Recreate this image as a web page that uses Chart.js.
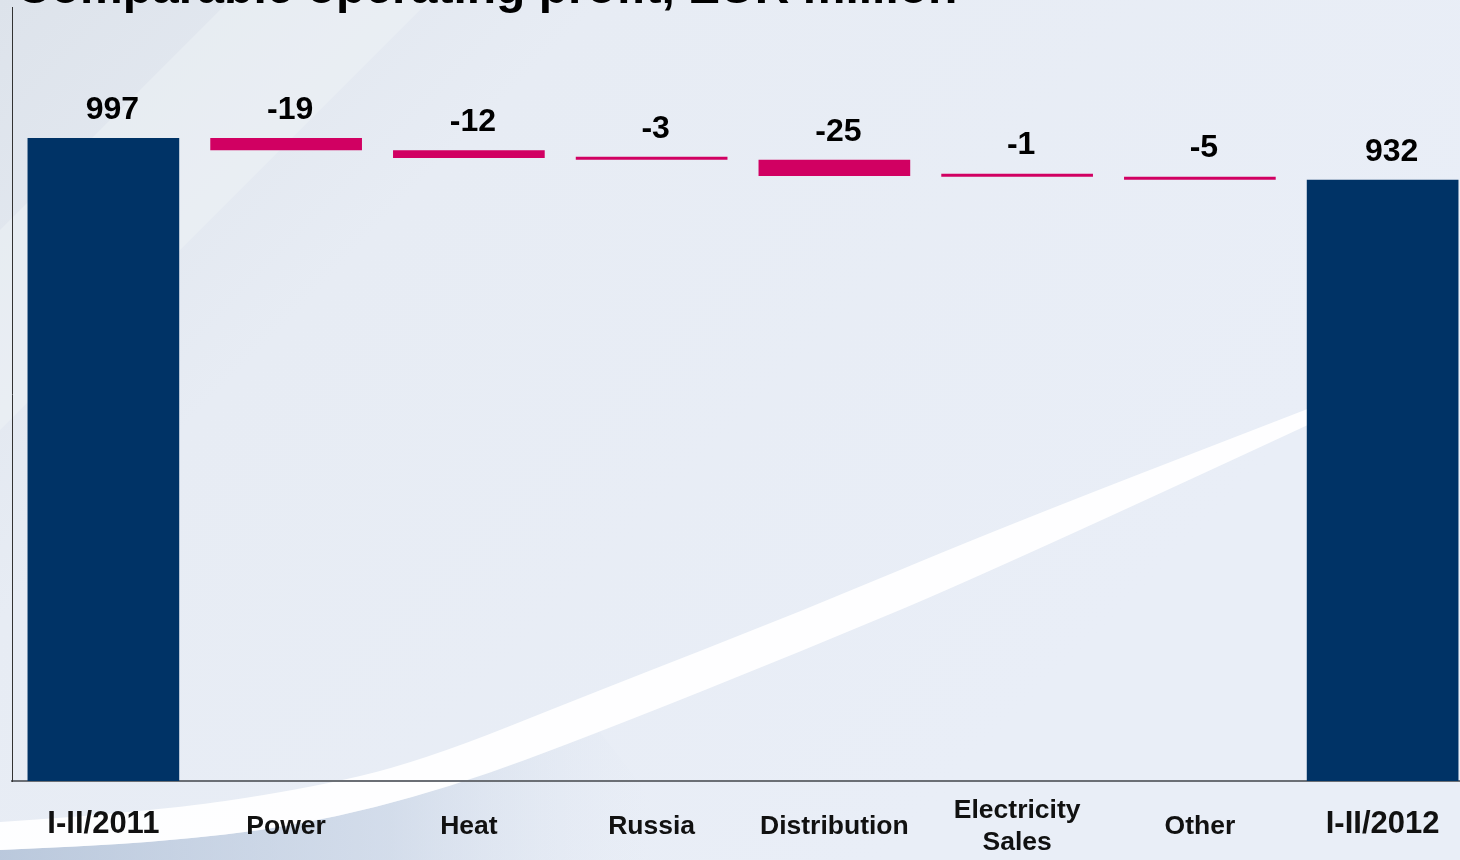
<!DOCTYPE html>
<html lang="en">
<head>
<meta charset="UTF-8">
<title>Comparable operating profit, EUR million</title>
<script src="https://cdn.jsdelivr.net/npm/chart.js@4"></script>
<style>
    html, body {
        margin: 0;
        padding: 0;
        width: 1460px;
        height: 860px;
        overflow: hidden;
        background: #e8eef6;
        font-family: "Liberation Sans", Arial, sans-serif;
    }
    #title {
        position: absolute;
        left: 16px;
        top: -37px;
        font-size: 48px;
        line-height: 48px;
        font-weight: bold;
        color: #000;
        white-space: nowrap;
        z-index: 2;
    }
    #wrap {
        position: absolute;
        left: 0;
        top: 0;
        width: 1474px;
        height: 860px;
    }
</style>
</head>
<body>
<div id="wrap"><canvas id="chart"></canvas></div>
<div id="title">Comparable operating profit, EUR million</div>
<script>
// Данные
const categories = ['I-II/2011', 'Power', 'Heat', 'Russia', 'Distribution', ['Electricity', 'Sales'], 'Other', 'I-II/2012'];
const startTotal = 997;
const endTotal = 932;
const changes = [-19, -12, -3, -25, -1, -5];
const valueLabels = ['997', '-19', '-12', '-3', '-25', '-1', '-5', '932'];
const yMin = 0;
const yMax = 1200;

const navy = '#003366';
const magenta = '#d10062';

// Плавающие столбики водопада
const bars = [[0, startTotal]];
let level = startTotal;
changes.forEach((c) => {
    bars.push([level + c, level]);
    level += c;
});
bars.push([0, endTotal]);

const colors = bars.map((b, i) => (i === 0 || i === bars.length - 1) ? navy : magenta);

// Гладкая линия через точки
const smoothPath = (ctx, pts, start) => {
    if (start) ctx.moveTo(pts[0][0], pts[0][1]);
    else ctx.lineTo(pts[0][0], pts[0][1]);
    for (let i = 1; i < pts.length - 1; i++) {
        const mx = (pts[i][0] + pts[i + 1][0]) / 2;
        const my = (pts[i][1] + pts[i + 1][1]) / 2;
        ctx.quadraticCurveTo(pts[i][0], pts[i][1], mx, my);
    }
    const last = pts[pts.length - 1];
    ctx.lineTo(last[0], last[1]);
};

// Фон со светлой "волной"
const backgroundPlugin = {
    id: 'bg',
    beforeDraw(chart) {
        const ctx = chart.ctx;
        const w = chart.width;
        const h = chart.height;
        ctx.save();
        const g = ctx.createLinearGradient(0, 0, w * 0.6, h);
        g.addColorStop(0, '#dde3eb');
        g.addColorStop(0.35, '#e7ecf4');
        g.addColorStop(1, '#e9eef7');
        ctx.fillStyle = g;
        ctx.fillRect(0, 0, w, h);

        // светлая диагональная полоса сверху слева
        ctx.fillStyle = 'rgba(240, 243, 247, 0.45)';
        ctx.beginPath();
        ctx.moveTo(230, 0);
        ctx.lineTo(430, 0);
        ctx.lineTo(0, 430);
        ctx.lineTo(0, 230);
        ctx.closePath();
        ctx.fill();

        const upper = [[0, 822], [150, 812], [300, 790], [420, 762], [600, 690], [800, 612], [1000, 528], [1310, 408]];
        const lower = [[1310, 424], [1000, 568], [800, 652], [600, 732], [450, 788], [300, 826], [150, 843], [0, 850]];

        // серо-голубая область под волной
        const gb = ctx.createLinearGradient(0, 0, 650, 0);
        gb.addColorStop(0, 'rgba(178, 194, 216, 0.85)');
        gb.addColorStop(0.6, 'rgba(190, 204, 224, 0.5)');
        gb.addColorStop(1, 'rgba(220, 228, 240, 0)');
        ctx.fillStyle = gb;
        ctx.beginPath();
        smoothPath(ctx, lower.slice(3), true);
        ctx.lineTo(0, 860);
        ctx.lineTo(700, 860);
        ctx.closePath();
        ctx.fill();

        // белая волна
        ctx.fillStyle = 'rgba(255, 255, 255, 0.92)';
        ctx.beginPath();
        smoothPath(ctx, upper, true);
        smoothPath(ctx, lower, false);
        ctx.closePath();
        ctx.fill();
        ctx.restore();
    }
};

// Подписи значений над столбиками
const valueLabelPlugin = {
    id: 'valueLabels',
    afterDatasetsDraw(chart) {
        const ctx = chart.ctx;
        const meta = chart.getDatasetMeta(0);
        ctx.save();
        ctx.font = 'bold 32px "Liberation Sans", Arial, sans-serif';
        ctx.fillStyle = '#000';
        ctx.textAlign = 'center';
        ctx.textBaseline = 'middle';
        meta.data.forEach((bar, i) => {
            const top = Math.min(bar.y, bar.base);
            const isTotal = i === 0 || i === meta.data.length - 1;
            ctx.fillText(valueLabels[i], bar.x + (isTotal ? 9 : 4), top - 28);
        });
        ctx.restore();
    }
};

const ctx = document.getElementById('chart').getContext('2d');
const chart = new Chart(ctx, {
    type: 'bar',
    data: {
        labels: categories,
        datasets: [{
            data: bars,
            backgroundColor: colors,
            borderWidth: 0,
            barPercentage: 0.83,
            categoryPercentage: 1,
            minBarLength: 3
        }]
    },
    options: {
        responsive: true,
        maintainAspectRatio: false,
        animation: false,
        layout: { padding: { top: 7, left: 0, right: 0, bottom: 0 } },
        plugins: {
            legend: { display: false },
            tooltip: { enabled: false },
            title: { display: false }
        },
        scales: {
            x: {
                grid: { display: false, drawTicks: false },
                border: { display: true, color: '#6b6f75', width: 2 },
                ticks: {
                    autoSkip: false,
                    maxRotation: 0,
                    crossAlign: 'center',
                    padding: 30,
                    color: '#111',
                    font: (c) => {
                        const isTotal = c.index === 0 || c.index === categories.length - 1;
                        return {
                            family: '"Liberation Sans", Arial, sans-serif',
                            weight: 'bold',
                            size: isTotal ? 31 : 26.5,
                            lineHeight: 1.18
                        };
                    }
                },
                afterFit: (axis) => { axis.height = 79; }
            },
            y: {
                min: yMin,
                max: yMax,
                grid: { display: false, drawTicks: false },
                border: { display: true, color: '#333', width: 1 },
                ticks: { display: false },
                afterFit: (axis) => { axis.width = 12; }
            }
        }
    },
    plugins: [backgroundPlugin, valueLabelPlugin]
});
</script>
</body>
</html>
